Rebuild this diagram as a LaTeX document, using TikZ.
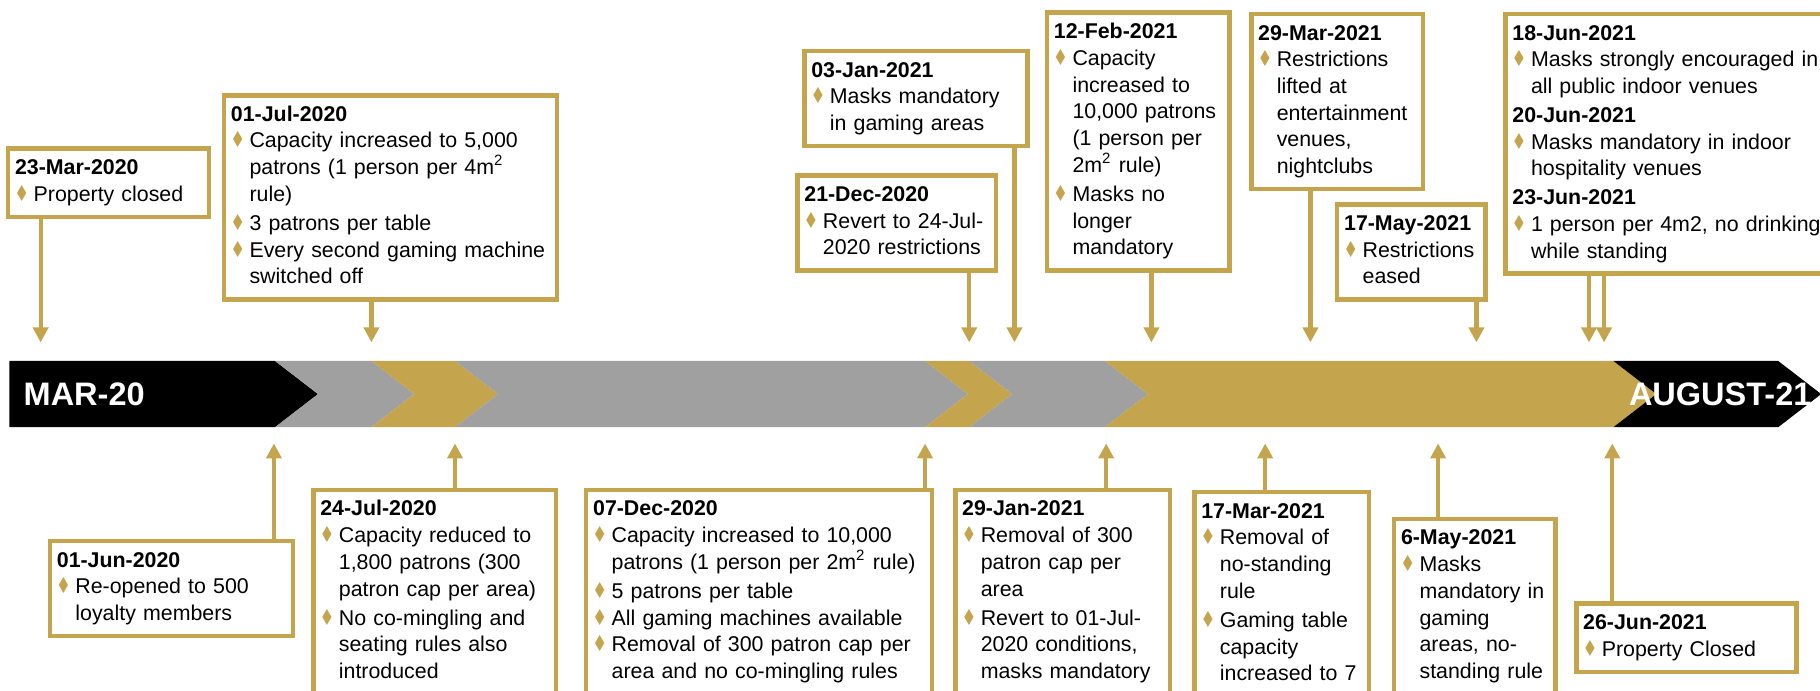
\documentclass[tikz,border=0pt]{standalone}
\usepackage{fontspec}
\usepackage{graphicx}
\setmainfont{Liberation Sans}
\newfontfamily\dejavu{DejaVu Sans}
\usetikzlibrary{arrows.meta}

\definecolor{gold}{RGB}{196,164,76}
\definecolor{bandgrey}{RGB}{160,160,160}

\newcommand{\dt}[1]{\noindent\textbf{#1}\strut\par}
\newcommand{\itm}[1]{\noindent\makebox[8pt][l]{\hspace{-0.3pt}\scalebox{0.75}[1]{\color{gold}\fontsize{9.5}{9.5}\dejavu ♦}}\begin{tabular}[t]{@{}l@{}}#1\end{tabular}\par}
\newcommand{\sq}{\smash{\textsuperscript{2}}}

\tikzset{
  evt/.style={draw=gold, line width=2pt, fill=white, anchor=north west,
    inner xsep=3pt, inner ysep=3.2pt, font=\fontsize{9.2}{11.5}\selectfont},
  link/.style={draw=gold, line width=1.8pt, -{Triangle[width=6.5pt,length=6.5pt]}},
  bandlabel/.style={text=white, inner sep=0pt, font=\fontsize{14}{16}\selectfont\bfseries}
}

\begin{document}
\begin{tikzpicture}[x=0.5pt, y=-0.5pt]
\useasboundingbox (0,0) rectangle (1568,595);

% band
\fill[black] (8,311) -- (237,311) -- (274,339.5) -- (237,368) -- (8,368) -- cycle;
\foreach \a/\b/\c in {237/320/bandgrey, 320/392/gold, 392/797/bandgrey, 797/835/gold,
                       835/952/bandgrey, 952/1390/gold, 1390/1532/black}
  \fill[\c] (\a,311) -- (\b,311) -- ({\b+37},339.5) -- (\b,368) -- (\a,368) -- ({\a+37},339.5) -- cycle;
\node[bandlabel, anchor=west] (start) at (20,339.5) {MAR-20};
\node[bandlabel, anchor=east] (finish) at (1561,339.5) {AUGUST-21};

% above the band
\node[evt, text width=80.5pt] (mar23) at (5,126) {\dt{23-Mar-2020}\itm{Property closed}};
\node[evt, text width=137.5pt] (jul01) at (191,80) {\dt{01-Jul-2020}\itm{Capacity increased to 5,000\\patrons (1 person per 4m\sq\\rule)}\itm{3 patrons per table}\itm{Every second gaming machine\\switched off}};
\node[evt, text width=90pt] (jan03) at (691,42) {\dt{03-Jan-2021}\itm{Masks mandatory\\in gaming areas}};
\node[evt, text width=79.5pt] (dec21) at (685,149) {\dt{21-Dec-2020}\itm{Revert to 24-Jul-\\2020 restrictions}};
\node[evt, text width=72.5pt] (feb12) at (900,9) {\dt{12-Feb-2021}\itm{Capacity\\increased to\\10,000 patrons\\(1 person per\\2m\sq{} rule)}\itm{Masks no\\longer\\mandatory}};
\node[evt, text width=68pt] (mar29) at (1076,10) {\dt{29-Mar-2021}\itm{Restrictions\\lifted at\\entertainment\\venues,\\ nightclubs}};
\node[evt, text width=58pt] (may17) at (1150,174) {\dt{17-May-2021}\itm{Restrictions\\eased}};
\node[evt, text width=133pt] (jun18) at (1295,10) {\dt{18-Jun-2021}\itm{Masks strongly encouraged in\\all public indoor venues}\dt{20-Jun-2021}\itm{Masks mandatory in indoor\\hospitality venues}\dt{23-Jun-2021}\itm{1 person per 4m2, no drinking\\while standing}};

% below the band
\node[evt, text width=98.75pt] (jun01) at (41,464) {\dt{01-Jun-2020}\itm{Re-opened to 500\\loyalty members}};
\node[evt, text width=98.5pt] (jul24) at (268,420) {\dt{24-Jul-2020}\itm{Capacity reduced to\\1,800 patrons (300\\patron cap per area)}\itm{No co-mingling and\\seating rules also\\introduced}};
\node[evt, text width=143pt] (dec07) at (503,420) {\dt{07-Dec-2020}\itm{Capacity increased to 10,000\\patrons (1 person per 2m\sq{} rule)}\itm{5 patrons per table}\itm{All gaming machines available}\itm{Removal of 300 patron cap per\\area and no co-mingling rules}};
\node[evt, text width=86.5pt] (jan29) at (821,420) {\dt{29-Jan-2021}\itm{Removal of 300\\patron cap per\\area}\itm{Revert to 01-Jul-\\2020 conditions,\\masks mandatory}};
\node[evt, text width=69.25pt] (mar17) at (1027,422) {\dt{17-Mar-2021}\itm{Removal of\\no-standing\\rule}\itm{Gaming table\\capacity\\increased to 7}};
\node[evt, text width=63.5pt] (may06) at (1199,445) {\dt{6-May-2021}\itm{Masks\\mandatory in\\gaming\\areas, no-\\standing rule}};
\node[evt, text width=89pt] (jun26) at (1356,518) {\dt{26-Jun-2021}\itm{Property Closed}};

% arrows onto the band
\foreach \n/\x in {mar23/35, jul01/320, dec21/835, jan03/874, feb12/992,
                   mar29/1129, may17/1272, jun18/1369, jun18/1382} {
  \coordinate (up\x) at (\x,295);
  \draw[link] (\n.south -| up\x) -- (up\x);
}
\foreach \n/\x in {jun01/236, jul24/392, dec07/797, jan29/953,
                   mar17/1090, may06/1239, jun26/1389} {
  \coordinate (dn\x) at (\x,382);
  \draw[link] (\n.north -| dn\x) -- (dn\x);
}
\end{tikzpicture}
\end{document}
